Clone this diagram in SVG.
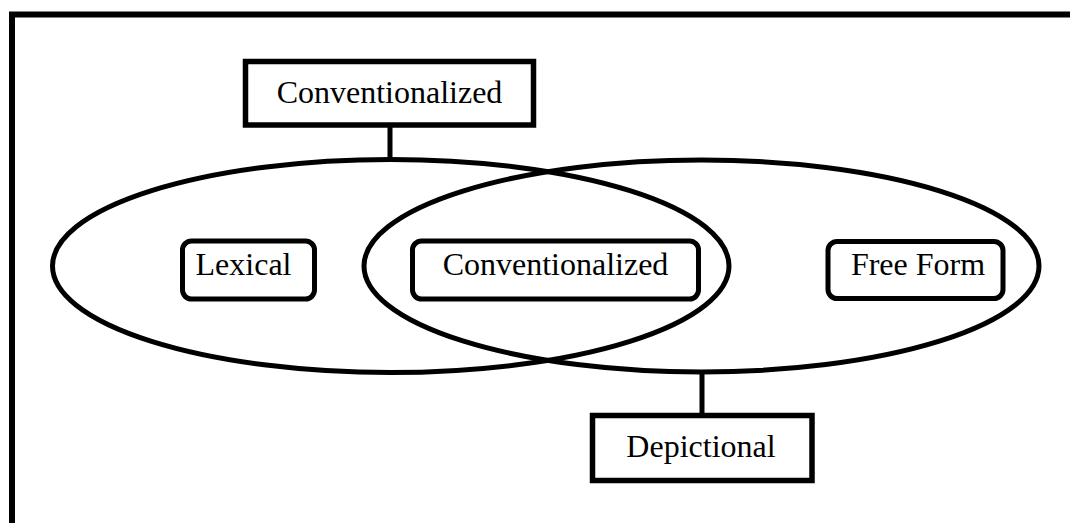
<svg xmlns="http://www.w3.org/2000/svg" width="1070" height="523" viewBox="0 0 1070 523">
<style>
.box{fill:#fff;stroke:#000;stroke-width:5.5}
.rbox{fill:none;stroke:#000;stroke-width:5}
.ell{fill:none;stroke:#000;stroke-width:5}
.con{stroke:#000;stroke-width:5;fill:none}
text{font-family:"Liberation Serif","Times New Roman",serif;font-size:32px;fill:#000;text-anchor:middle}
</style>
<rect x="0" y="0" width="1070" height="523" fill="#fff"/>
<rect id="frame" x="12" y="14.5" width="1100" height="600" fill="none" stroke="#000" stroke-width="6"/>
<g id="connectors">
<line class="con" x1="390" y1="127" x2="390" y2="159"/>
<line class="con" x1="702" y1="373" x2="702" y2="414"/>
</g>
<g id="ellipse-left"><ellipse class="ell" cx="390.75" cy="266" rx="338.25" ry="106.5"/></g>
<g id="ellipse-right"><ellipse class="ell" cx="701.5" cy="266" rx="337.5" ry="106"/></g>
<g id="conventionalized-top">
<rect class="box" x="245.5" y="61.5" width="288" height="63.5"/>
<text x="389.5" y="103">Conventionalized</text>
</g>
<g id="lexical">
<rect class="rbox" x="182.5" y="241" width="132" height="58" rx="9"/>
<text x="243.5" y="275">Lexical</text>
</g>
<g id="conventionalized-mid">
<rect class="rbox" x="412.5" y="241" width="286" height="58" rx="9"/>
<text x="555.5" y="275">Conventionalized</text>
</g>
<g id="free-form">
<rect class="rbox" x="828" y="241.5" width="175" height="57" rx="9"/>
<text x="918" y="275">Free Form</text>
</g>
<g id="depictional">
<rect class="box" x="592.5" y="415.5" width="219.5" height="65"/>
<text x="701" y="457">Depictional</text>
</g>
</svg>
